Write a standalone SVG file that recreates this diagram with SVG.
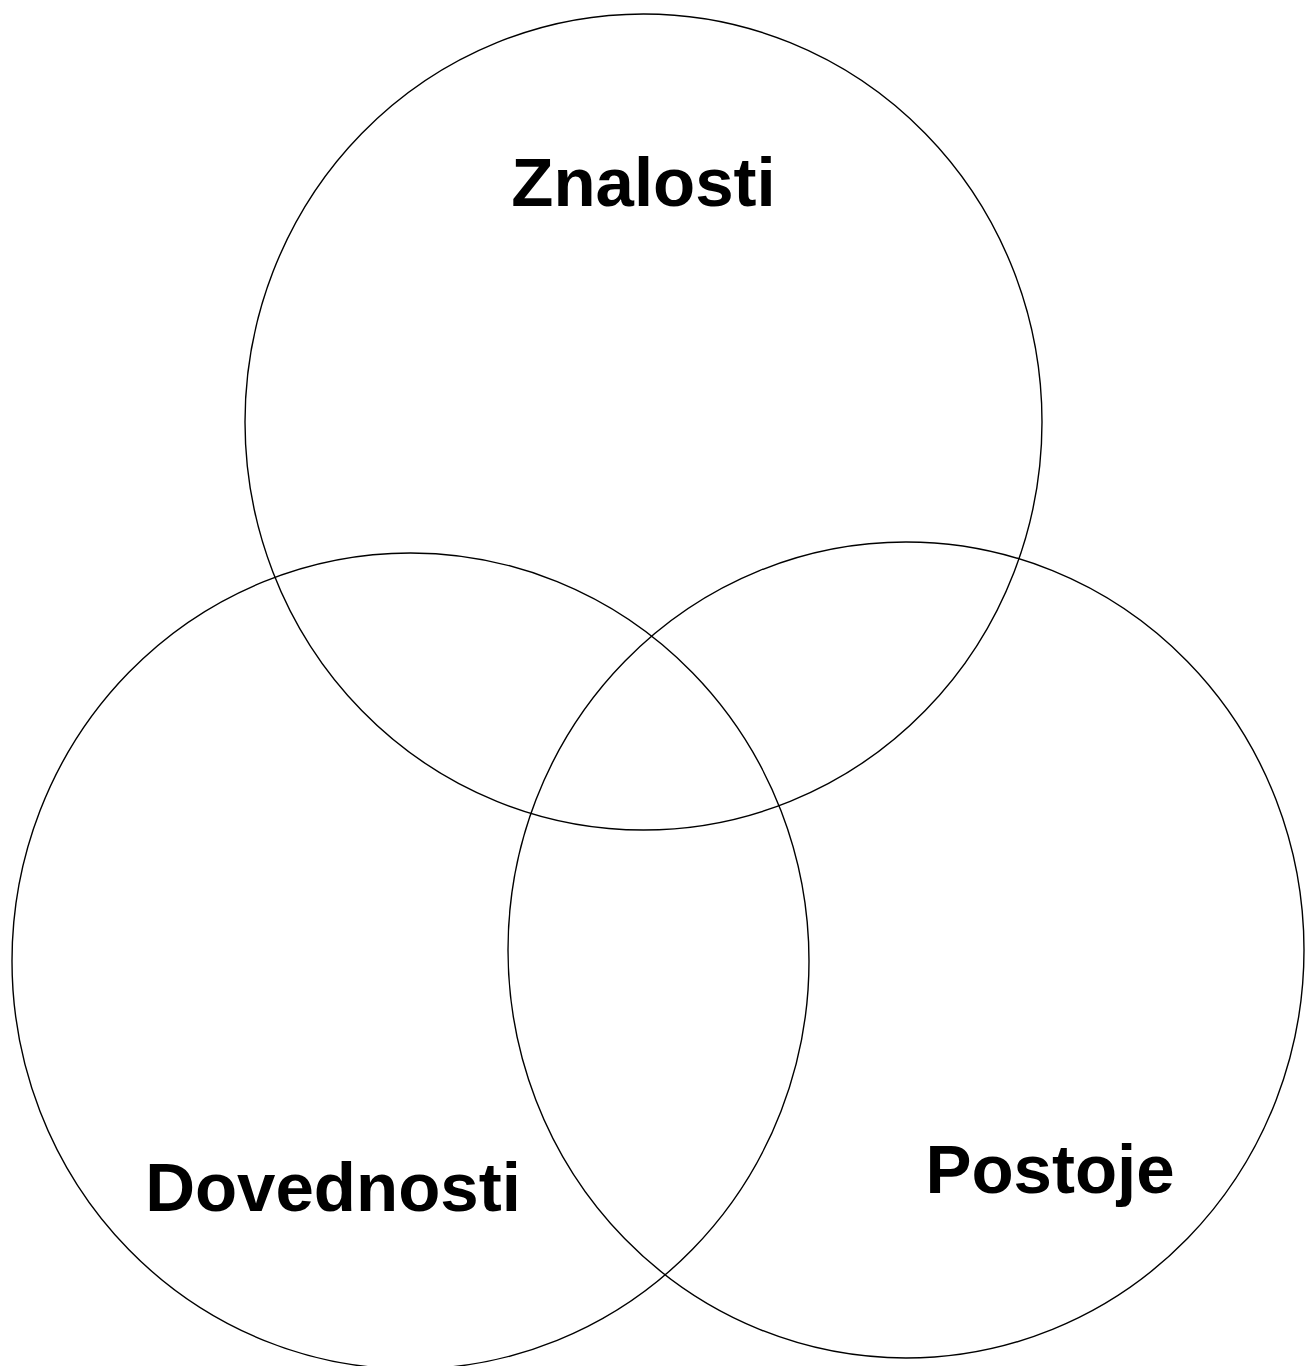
<svg xmlns="http://www.w3.org/2000/svg" width="1305" height="1366" viewBox="0 0 1305 1366">
<style>
.c{fill:none;stroke:#000;stroke-width:1.4}
.t{font-family:"Liberation Sans",Arial,sans-serif;font-weight:bold;font-size:69px;fill:#000;text-anchor:middle}
</style>
<rect width="1305" height="1366" fill="#fff"/>
<g id="znalosti">
<ellipse class="c" cx="643.5" cy="422" rx="398.5" ry="408"/>
<text class="t" x="643.5" y="206">Znalosti</text>
</g>
<g id="dovednosti">
<ellipse class="c" cx="410.5" cy="961" rx="398.5" ry="408"/>
<text class="t" x="333" y="1211">Dovednosti</text>
</g>
<g id="postoje">
<ellipse class="c" cx="906" cy="950" rx="398" ry="408"/>
<text class="t" x="1050" y="1193">Postoje</text>
</g>
<g id="connectors"></g>
</svg>
